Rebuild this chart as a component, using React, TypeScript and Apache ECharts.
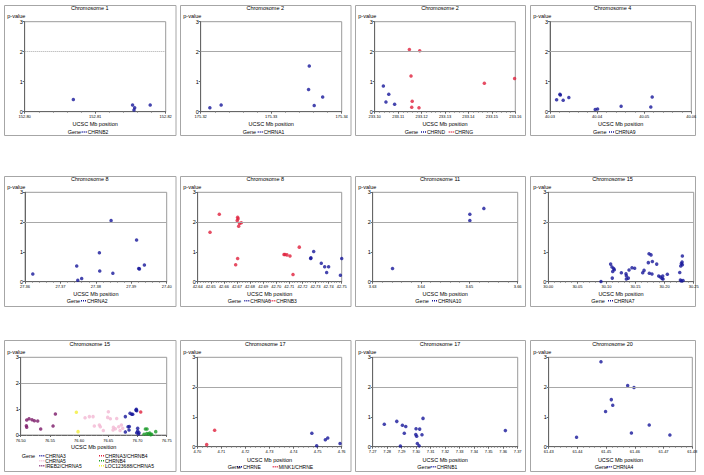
import React, { useEffect, useRef } from "react";
import * as echarts from "echarts";

// ---------- data (UCSC Mb position, p-value) ----------
const chr1_CHRNB2 = [[152.8069, 0.41], [152.8153, 0.22], [152.8156, 0.13], [152.8155, 0.06], [152.8178, 0.22]];
const chr2_CHRNA1 = [[175.3213, 0.13], [175.3229, 0.22], [175.3354, 1.52], [175.3353, 0.74], [175.3361, 0.21], [175.3373, 0.49]];
const chr2_CHRND = [[233.1037, 0.86], [233.106, 0.58], [233.1048, 0.32], [233.1085, 0.25]];
const chr2_CHRNG = [[233.1148, 2.07], [233.1192, 2.03], [233.1155, 1.19], [233.116, 0.35], [233.1158, 0.15], [233.1189, 0.13], [233.1468, 0.95], [233.1597, 1.11]];
const chr4_CHRNA9 = [[40.0314, 0.4], [40.0321, 0.58], [40.0322, 0.56], [40.0328, 0.38], [40.034, 0.47], [40.0396, 0.07], [40.0401, 0.09], [40.0451, 0.18], [40.0514, 0.16], [40.0517, 0.49]];
const chr8_CHRNA2 = [[27.3622, 0.26], [27.3746, 0.53], [27.3749, 0.05], [27.376, 0.11], [27.381, 0.97], [27.3811, 0.36], [27.3843, 2.05], [27.3848, 0.28], [27.3915, 1.4], [27.3921, 0.44], [27.3923, 0.43], [27.3937, 0.56]];
const chr8_CHRNA6 = [[42.7263, 0.78], [42.7265, 0.8], [42.7286, 1.01], [42.7344, 0.62], [42.737, 0.5], [42.74, 0.5], [42.7385, 0.31], [42.75, 0.78], [42.749, 0.22]];
const chr8_CHRNB3 = [[42.6494, 1.66], [42.6565, 2.26], [42.669, 0.57], [42.6705, 0.78], [42.6702, 2.05], [42.6705, 2.16], [42.6708, 2.11], [42.6713, 1.86], [42.672, 1.95], [42.6733, 1.98], [42.7059, 0.91], [42.7067, 0.91], [42.7082, 0.9], [42.7105, 0.86], [42.7128, 0.24], [42.7176, 1.16]];
const chr11_CHRNA10 = [[3.6341, 0.44], [3.6501, 2.05], [3.6501, 2.26], [3.653, 2.46]];
const chr15_CHRNA7 = [[30.0906, 0.01], [30.1072, 0.59], [30.1095, 0.49], [30.1107, 0.34], [30.1124, 0.44], [30.1135, 0.4], [30.11, 0.12], [30.1256, 0.3], [30.1336, 0.27], [30.1342, 0.2], [30.1342, 0.09], [30.1376, 0.12], [30.1388, 0.39], [30.1439, 0.47], [30.1485, 0.45], [30.1623, 0.3], [30.1646, 0.38], [30.172, 0.64], [30.1732, 0.94], [30.1737, 0.28], [30.1766, 0.9], [30.1783, 0.26], [30.1789, 0.68], [30.1864, 0.59], [30.1898, 0.19], [30.1927, 0.16], [30.1956, 0.11], [30.1967, 0.19], [30.1973, 0.09], [30.2047, 0.25], [30.226, 0.31], [30.2277, 0.53], [30.2288, 0.61], [30.23, 0.66], [30.2305, 0.86], [30.2271, 0.06], [30.2288, 0.02], [30.2317, 0.04], [30.2305, 0.57]];
const chr15_IREB2_CHRNA5 = [[76.5103, 0.3], [76.5097, 0.36], [76.5103, 0.58], [76.5143, 0.63], [76.5194, 0.59], [76.5234, 0.55], [76.5291, 0.54], [76.5342, 0.23], [76.5554, 0.35], [76.5594, 0.81]];
const chr15_LOC123688_CHRNA5 = [[76.5953, 0.88], [76.5982, 0.13]];
const chr15_CHRNA5 = [[76.6102, 0.67], [76.6176, 0.71], [76.6239, 0.71], [76.6261, 0.35], [76.6347, 0.39], [76.6364, 0.32], [76.6415, 0.17], [76.6501, 0.9], [76.6489, 0.68], [76.6535, 0.63], [76.6644, 0.64], [76.6587, 0.3], [76.6621, 0.24], [76.6581, 0.19], [76.6678, 0.32], [76.6724, 0.39], [76.6747, 0.26], [76.6701, 0.17]];
const chr15_CHRNA3 = [[76.6792, 0.71], [76.6838, 0.32], [76.686, 0.33], [76.6855, 0.19], [76.6792, 0.12], [76.6872, 0.84], [76.6901, 0.8], [76.6918, 0.8], [76.698, 0.99], [76.6986, 0.94], [76.6975, 0.96], [76.7003, 0.26], [76.7003, 0.15], [76.7026, 0.09], [76.6986, 0.09], [76.7015, 0.04]];
const chr15_CHRNA3_CHRNB4 = [[76.7055, 0.89]];
const chr15_CHRNB4 = [[76.7112, 0.03], [76.7135, 0.23], [76.7163, 0.23], [76.7158, 0.06], [76.7186, 0.04], [76.7209, 0.08], [76.7226, 0.01], [76.7243, 0.03], [76.7312, 0.13]];
const chr17_CHRNE = [[4.7476, 0.45], [4.7496, 0.03], [4.7532, 0.23], [4.7542, 0.29], [4.7593, 0.11]];
const chr17_MINK1_CHRNE = [[4.7039, 0.07], [4.7072, 0.55]];
const chr17_CHRNB1 = [[7.278, 0.75], [7.2866, 0.85], [7.2905, 0.72], [7.2928, 0.68], [7.2918, 0.45], [7.2891, 0.02], [7.2999, 0.6], [7.2997, 0.41], [7.3003, 0.35], [7.3024, 0.59], [7.304, 0.4], [7.3047, 0.95], [7.3008, 0.11], [7.302, 0.03], [7.3615, 0.54]];
const chr20_CHRNA4 = [[61.4397, 0.32], [61.4482, 2.85], [61.4498, 1.18], [61.4518, 1.58], [61.4523, 1.39], [61.4575, 2.05], [61.4597, 1.99], [61.4588, 0.46], [61.465, 0.73], [61.4722, 0.39]];

// axis ranges [min, max, step]
const xRanges = [
  [152.8, 152.82, 0.01], [175.32, 175.34, 0.01], [233.1, 233.16, 0.01], [40.03, 40.06, 0.01],
  [27.36, 27.4, 0.01], [42.64, 42.75, 0.01], [3.63, 3.66, 0.01], [30.0, 30.25, 0.05],
  [76.5, 76.75, 0.05], [4.7, 4.76, 0.01], [7.27, 7.37, 0.01], [61.43, 61.48, 0.01],
];
const titles = ["Chromosome 1", "Chromosome 2", "Chromosome 2", "Chromosome 4", "Chromosome 8", "Chromosome 8", "Chromosome 11", "Chromosome 15", "Chromosome 15", "Chromosome 17", "Chromosome 17", "Chromosome 20"];
const yTicks = [0, 1, 2, 3];
const threshold = 2;

// colours
const BLUE = "#16169a";
const RED = "#e0203c";
const PINK = "#f3b8d3";
const GREEN = "#1a9a28";
const PURPLE = "#7a1868";
const YELLOW = "#f2ee3a";

const panelSeries = [
  [{ name: "CHRNB2", data: chr1_CHRNB2, color: BLUE }],
  [{ name: "CHRNA1", data: chr2_CHRNA1, color: BLUE }],
  [{ name: "CHRND", data: chr2_CHRND, color: BLUE }, { name: "CHRNG", data: chr2_CHRNG, color: RED }],
  [{ name: "CHRNA9", data: chr4_CHRNA9, color: BLUE }],
  [{ name: "CHRNA2", data: chr8_CHRNA2, color: BLUE }],
  [{ name: "CHRNA6", data: chr8_CHRNA6, color: BLUE }, { name: "CHRNB3", data: chr8_CHRNB3, color: RED }],
  [{ name: "CHRNA10", data: chr11_CHRNA10, color: BLUE }],
  [{ name: "CHRNA7", data: chr15_CHRNA7, color: BLUE }],
  [
    { name: "CHRNA3", data: chr15_CHRNA3, color: BLUE },
    { name: "CHRNA3/CHRNB4", data: chr15_CHRNA3_CHRNB4, color: RED },
    { name: "CHRNA5", data: chr15_CHRNA5, color: PINK },
    { name: "CHRNB4", data: chr15_CHRNB4, color: GREEN },
    { name: "IREB2/CHRNA5", data: chr15_IREB2_CHRNA5, color: PURPLE },
    { name: "LOC123688/CHRNA5", data: chr15_LOC123688_CHRNA5, color: YELLOW },
  ],
  [{ name: "CHRNE", data: chr17_CHRNE, color: BLUE }, { name: "MINK1/CHRNE", data: chr17_MINK1_CHRNE, color: RED }],
  [{ name: "CHRNB1", data: chr17_CHRNB1, color: BLUE }],
  [{ name: "CHRNA4", data: chr20_CHRNA4, color: BLUE }],
];

// ---------- layout (pixels) ----------
const colBox = [[4, 175.5], [180, 350.5], [355, 525], [530, 695]];
const rowBox = [[5, 135], [176, 306], [340, 471]];
const plotX = [
  [24.7, 165.7], [200.7, 341.7], [374.7, 515.3], [550, 691.3],
  [25, 166.7], [197.7, 341.7], [372.7, 517.7], [548.3, 693.7],
  [20.7, 166.7], [197.3, 341.7], [372.7, 517.7], [548.7, 692.3],
];
const rowText = [
  { title: 8, pval: 16, top: 21.7, zero: 111.7, ucsc: 124, legend: 132 },
  { title: 179.3, pval: 187.3, top: 192.3, zero: 281.7, ucsc: 294, legend: 300.7 },
  { title: 343.7, pval: 352.3, top: 357.3, zero: 446.7, ucsc: 460, legend: 466.7 },
];
// legend layout: gene label x, item positions [iconX, dy]
const legendPos: any[] = [
  { gene: 67.7, items: [[81.7, 0]] },
  { gene: 242.7, items: [[257.7, 0]] },
  { gene: 404.7, items: [[421, 0], [448.7, 0]] },
  { gene: 593, items: [[609, 0]] },
  { gene: 66.7, items: [[81, 0]] },
  { gene: 227.7, items: [[244.3, 0], [270.3, 0]] },
  { gene: 415.3, items: [[432, 0]] },
  { gene: 591.3, items: [[608, 0]] },
  { gene: 21.7, items: [[39.3, 0], [99, 0], [39.3, 5], [99, 5], [39.3, 10], [99, 10]] },
  { gene: 227.7, items: [[237, 0], [272.7, 0]] },
  { gene: 417.3, items: [[430.7, 0]] },
  { gene: 594.7, items: [[606.7, 0]] },
];

const FONT = "Liberation Sans, Arial, sans-serif";
const TXT = "#000000";

export default function App() {
  const ref = useRef<HTMLDivElement>(null);
  useEffect(() => {
    document.body.style.margin = "0";
    const chart = echarts.init(ref.current!, undefined, { renderer: "svg" });
    const grids: any[] = [];
    const xAxes: any[] = [];
    const yAxes: any[] = [];
    const series: any[] = [];
    const graphic: any[] = [];
    const txt = (x: number, y: number, text: string, size: number, align: string) => ({
      type: "text", x, y,
      style: { text, fontSize: size, fontFamily: FONT, fill: TXT, textFill: TXT, textAlign: align, textVerticalAlign: "middle", verticalAlign: "middle" },
    });
    for (let i = 0; i < 12; i++) {
      const r = Math.floor(i / 4);
      const c = i % 4;
      const rt = rowText[r];
      const is9 = i === 8;
      const zero = is9 ? 435 : rt.zero;
      const ucsc = is9 ? 446.7 : rt.ucsc;
      const legendY = is9 ? 455.7 : rt.legend;
      const [px0, px1] = plotX[i];
      grids.push({
        left: px0, top: rt.top, width: px1 - px0, height: zero - rt.top,
        show: true, borderColor: "#9a9a9a", borderWidth: 1, containLabel: false,
      });
      const [mn, mx, st] = xRanges[i];
      xAxes.push({
        type: "value", gridIndex: i, min: mn, max: mx, interval: st,
        axisLine: { show: true, lineStyle: { color: "#666", width: 1 } },
        axisTick: { show: true, length: 2, lineStyle: { color: "#666" } },
        minorTick: { show: true, splitNumber: 5, length: 1, lineStyle: { color: "#888" } },
        splitLine: { show: false },
        axisLabel: { fontSize: 4, margin: 3, color: TXT, fontFamily: FONT, formatter: (v: number) => v.toFixed(2), showMinLabel: true, showMaxLabel: true },
      });
      yAxes.push({
        type: "value", gridIndex: i, min: yTicks[0], max: yTicks[yTicks.length - 1], interval: 1,
        axisLine: { show: true, lineStyle: { color: "#666", width: 1 } },
        axisTick: { show: true, length: 2, lineStyle: { color: "#666" } },
        splitLine: { show: false },
        axisLabel: { fontSize: 5.5, margin: 2, color: TXT, fontFamily: FONT },
      });
      panelSeries[i].forEach((s, k) => {
        const ser: any = {
          type: "scatter", name: s.name, xAxisIndex: i, yAxisIndex: i, data: s.data,
          symbol: "circle", symbolSize: 3.5, itemStyle: { color: s.color }, z: 3,
        };
        if (k === 0) {
          ser.markLine = {
            silent: true, symbol: "none", label: { show: false },
            lineStyle: { color: "#a8a8a8", width: 1, type: i === 0 ? "dotted" : "solid" },
            data: [{ yAxis: threshold }],
          };
        }
        series.push(ser);
        const [ix, dy] = legendPos[i].items[k];
        const ly = legendY + dy;
        graphic.push({
          type: "line", shape: { x1: ix, y1: ly, x2: ix + 5, y2: ly },
          style: { stroke: s.color, lineWidth: 1.5, lineDash: [1, 1] },
        });
        graphic.push(txt(ix + 6, ly, s.name, 5, "left"));
      });
      const [bx0, bx1] = colBox[c];
      const [by0, by1] = rowBox[r];
      graphic.push({
        type: "rect", shape: { x: bx0 + 0.5, y: by0 + 0.5, width: bx1 - bx0, height: by1 - by0 },
        style: { fill: "none", stroke: "#a6a6a6", lineWidth: 1 }, z: -1,
      });
      graphic.push(txt((bx0 + bx1) / 2, rt.title, titles[i], 5.5, "center"));
      graphic.push(txt(bx0 + 3.3, rt.pval, "p-value", 5.5, "left"));
      graphic.push(txt((px0 + px1) / 2, ucsc, "UCSC Mb position", 5.5, "center"));
      graphic.push(txt(legendPos[i].gene, legendY, "Gene", 5.5, "left"));
    }
    chart.setOption({
      animation: false,
      backgroundColor: "#ffffff",
      textStyle: { color: TXT, fontFamily: FONT },
      grid: grids,
      xAxis: xAxes,
      yAxis: yAxes,
      series,
      graphic,
    });
    return () => chart.dispose();
  }, []);
  return <div ref={ref} style={{ width: 704, height: 475 }} />;
}
